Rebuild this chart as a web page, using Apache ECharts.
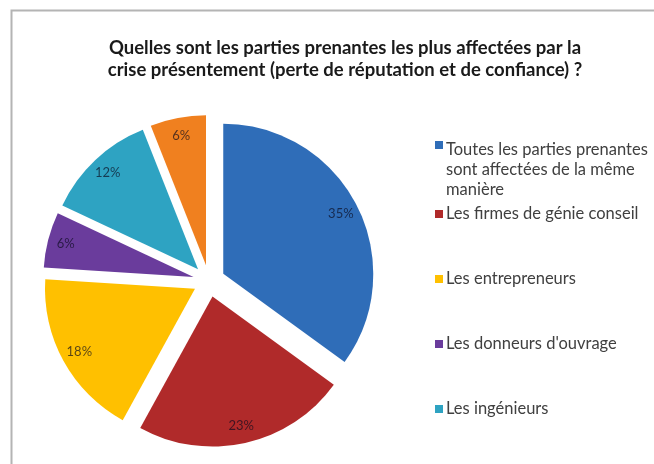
<!DOCTYPE html>
<html>
<head>
<meta charset="utf-8">
<script src="https://cdn.jsdelivr.net/npm/echarts@6/dist/echarts.min.js"></script>
<style>
html,body{margin:0;padding:0;background:#fff;}
#c{width:654px;height:464px;}
</style>
</head>
<body>
<div id="c"></div>
<script>
const titleLines = ["Quelles sont les parties prenantes les plus affectées par la", "crise présentement (perte de réputation et de confiance) ?"];
const categories = [
  "Toutes les parties prenantes\nsont affectées de la même\nmanière",
  "Les firmes de génie conseil",
  "Les entrepreneurs",
  "Les donneurs d'ouvrage",
  "Les ingénieurs",
  "Autres"
];
const values = [35, 23, 18, 6, 12, 6];
const colors = ["#2f6db8", "#b02a2a", "#ffc000", "#6a3c9c", "#2ea3c2", "#f0801f"];
const legendTops = [135, 199, 264, 329, 394];

const chart = echarts.init(document.getElementById('c'), null, {renderer: 'canvas'});
const FONT = 'Lato, "Open Sans", sans-serif';
const center = [209, 281];
const R = 150;
const OFF = 16;

const pieData = categories.map((n, i) => ({
  name: n, value: values[i], selected: true,
  itemStyle: {color: colors[i]}
}));

const legends = legendTops.map((t, i) => ({
  data: [categories[i]],
  left: 430, top: t,
  orient: 'vertical',
  icon: i === 0 ? 'path://M0,2L8,2L8,10L0,10Z M0,60L0.01,60' : 'rect',
  itemWidth: 8, itemHeight: i === 0 ? 60 : 8, itemGap: 0,
  selectedMode: false,
  textStyle: {
    fontFamily: FONT, fontSize: 16.5, color: '#404040', lineHeight: 20,
    padding: [0, 0, 0, -2]
  }
}));

chart.setOption({
  animation: false,
  backgroundColor: '#fff',
  title: {
    text: titleLines.join('\n'),
    left: 340, top: 32, textAlign: 'center',
    textStyle: {fontFamily: FONT, fontSize: 18.5, fontWeight: 'bold', color: '#1a1a1a', lineHeight: 22}
  },
  legend: legends,
  graphic: [{
    type: 'rect', shape: {x: 11.5, y: 10.5, width: 700, height: 500},
    style: {fill: 'none', stroke: '#b4b4b4', lineWidth: 2},
    silent: true
  }],
  series: [{
    type: 'pie',
    center: center, radius: [0, R],
    startAngle: 90, clockwise: true,
    selectedMode: 'multiple', selectedOffset: OFF,
    emphasis: {disabled: true},
    select: {itemStyle: {}},
    label: {show: false}, labelLine: {show: false},
    data: pieData
  }, {
    type: 'pie',
    center: center, radius: [0, R * 1.72],
    startAngle: 90, clockwise: true,
    selectedMode: 'multiple', selectedOffset: OFF,
    silent: true,
    emphasis: {disabled: true},
    itemStyle: {color: 'rgba(0,0,0,0)'},
    label: {
      show: true, position: 'inside',
      formatter: p => p.value + '%',
      fontFamily: FONT, fontSize: 13, color: 'rgba(10,10,30,0.68)'
    },
    labelLine: {show: false},
    data: categories.map((n, i) => ({name: n + ' ', value: values[i], selected: true, itemStyle: {color: 'rgba(0,0,0,0)'}}))
  }]
});
</script>
</body>
</html>
